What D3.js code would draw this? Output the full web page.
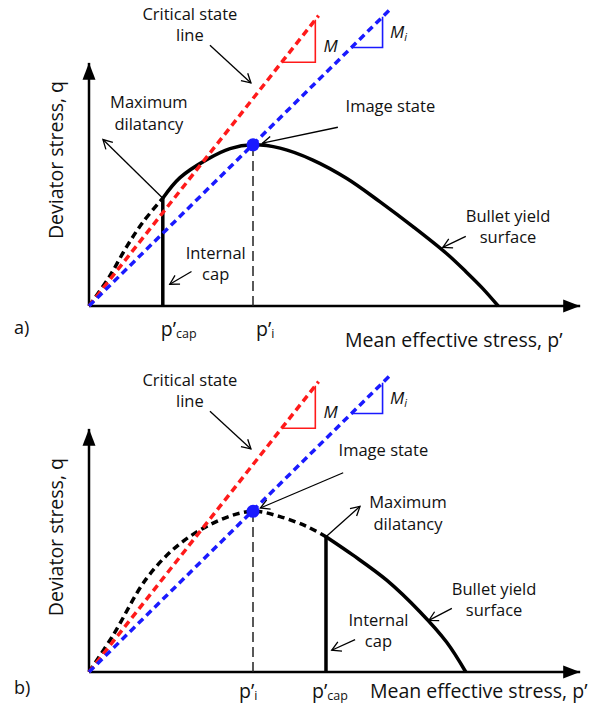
<!DOCTYPE html>
<html>
<head>
<meta charset="utf-8">
<script src="https://cdn.jsdelivr.net/npm/d3@7"></script>
<style>
  body { margin: 0; background: #fff; }
  text { font-family: 'Open Sans', sans-serif; fill: #111; }
</style>
</head>
<body>
<div id="vis"></div>
<script>
// slopes of the critical state line (M) and the image state line (Mi)
const slopeM = 1.265;
const slopeMi = 0.985;
// where the two dashed lines stop, and the p' span of their slope triangles
const cslEnd = 56;
const islEnd = 73.6;
const triM = [47, 55.2];
const triMi = [64, 71.6];

// panel a) : cap left of the image state, (p', q) pairs
const pImageA = 40;
const pCapA = 18;
const dashedA = [[0, 0], [5, 7.2], [9.2, 14.5], [13.2, 20.5], [18, 26.3]];
const solidA = [[18, 26.3], [22.2, 31.3], [28.7, 35.7], [34.4, 38.4], [40, 39.3],
  [46.6, 38.5], [54.6, 35.6], [62.9, 31.1], [71, 25.4], [79.1, 19.3], [87.2, 12.8],
  [92, 8.3], [96, 4.3], [99.8, 0]];

// panel b) : cap right of the image state
const pImageB = 40;
const pCapB = 57.8;
const dashedB = [[0, 0], [5.9, 9], [14.1, 22.9], [22.2, 31.3], [32, 37.1], [40, 39.2],
  [46.6, 37.9], [53.1, 35.5], [57.8, 33]];
const solidB = [[57.8, 33], [64.4, 28.5], [72.6, 22.4], [80.7, 14.7], [87.2, 7.3], [91.9, 0]];

// axis extents
const pMax = 119.8;
const qMax = 59.3;

const red = '#ff1a1a';
const blue = '#1a1aff';

const svg = d3.select('#vis')
  .append('svg')
  .attr('width', 600)
  .attr('height', 715);

const defs = svg.append('defs');
defs.append('marker')
  .attr('id', 'solid-head')
  .attr('viewBox', '0 -7 17 14')
  .attr('refX', 17).attr('refY', 0)
  .attr('markerWidth', 17).attr('markerHeight', 14)
  .attr('markerUnits', 'userSpaceOnUse')
  .attr('orient', 'auto')
  .append('path')
  .attr('d', 'M0,-6.5L17,0L0,6.5Z')
  .attr('fill', '#000');
defs.append('marker')
  .attr('id', 'open-head')
  .attr('viewBox', '-11 -7 13 14')
  .attr('refX', 0).attr('refY', 0)
  .attr('markerWidth', 13).attr('markerHeight', 14)
  .attr('markerUnits', 'userSpaceOnUse')
  .attr('orient', 'auto')
  .append('path')
  .attr('d', 'M-9,-5L0,0L-9,5')
  .attr('fill', 'none')
  .attr('stroke', '#000')
  .attr('stroke-width', 1.3);

const x = d3.scaleLinear().domain([0, 100]).range([89, 499]);

/**
 * draws one panel of the figure, origin is the pixel row of q = 0
 */
function drawPanel(panel) {
  const y = d3.scaleLinear().domain([0, 60]).range([panel.origin, panel.origin - 246]);
  const g = svg.append('g');
  const line = d3.line()
    .x((d) => x(d[0]))
    .y((d) => y(d[1]))
    .curve(d3.curveCatmullRom.alpha(0.5));

  // axes
  g.append('line')
    .attr('x1', x(0)).attr('y1', y(0))
    .attr('x2', x(0)).attr('y2', y(qMax))
    .attr('stroke', '#000').attr('stroke-width', 2.5)
    .attr('marker-end', 'url(#solid-head)');
  g.append('line')
    .attr('x1', x(0)).attr('y1', y(0))
    .attr('x2', x(pMax)).attr('y2', y(0))
    .attr('stroke', '#000').attr('stroke-width', 2.5)
    .attr('marker-end', 'url(#solid-head)');

  // image state projection
  g.append('line')
    .attr('x1', x(panel.image[0])).attr('y1', y(0))
    .attr('x2', x(panel.image[0])).attr('y2', y(panel.image[1]))
    .attr('stroke', '#222').attr('stroke-width', 1.5)
    .attr('stroke-dasharray', '10,5');

  // yield surface and internal cap
  g.append('path')
    .attr('d', line(panel.dashed))
    .attr('fill', 'none').attr('stroke', '#000')
    .attr('stroke-width', 3.5).attr('stroke-dasharray', '7,4.5');
  g.append('path')
    .attr('d', line(panel.solid))
    .attr('fill', 'none').attr('stroke', '#000')
    .attr('stroke-width', 3.5).attr('stroke-linejoin', 'round');
  const capTop = panel.solid[0][0] === panel.pCap ? panel.solid[0] : panel.dashed[panel.dashed.length - 1];
  g.append('line')
    .attr('x1', x(panel.pCap)).attr('y1', y(0))
    .attr('x2', x(panel.pCap)).attr('y2', y(capTop[1]) - 1.5)
    .attr('stroke', '#000').attr('stroke-width', 3.5);

  // critical state line and image state line with slope triangles
  [[slopeM, cslEnd, triM, red], [slopeMi, islEnd, triMi, blue]].forEach(([s, end, tri, c]) => {
    g.append('line')
      .attr('x1', x(0)).attr('y1', y(0))
      .attr('x2', x(end)).attr('y2', y(s * end))
      .attr('stroke', c).attr('stroke-width', 3.5)
      .attr('stroke-dasharray', '7,4.5');
    g.append('path')
      .attr('d', 'M' + x(tri[0]) + ',' + y(s * tri[0]) +
        'L' + x(tri[1]) + ',' + y(s * tri[0]) +
        'L' + x(tri[1]) + ',' + y(s * tri[1]))
      .attr('fill', 'none').attr('stroke', c).attr('stroke-width', 1.6);
  });

  g.append('circle')
    .attr('cx', x(panel.image[0])).attr('cy', y(panel.image[1]))
    .attr('r', 6.5).attr('fill', blue);

  // annotations: text lines and arrows, positioned in (p', q) units
  panel.notes.forEach((n) => {
    const t = g.append('text')
      .attr('x', x(n.at[0])).attr('y', y(n.at[1]))
      .attr('text-anchor', 'middle')
      .style('font-size', '16.5px');
    n.lines.forEach((s, i) => {
      t.append('tspan')
        .attr('x', x(n.at[0]))
        .attr('dy', i === 0 ? 0 : 21.5)
        .text(s);
    });
    g.append('line')
      .attr('x1', x(n.from[0])).attr('y1', y(n.from[1]))
      .attr('x2', x(n.to[0])).attr('y2', y(n.to[1]))
      .attr('stroke', '#000').attr('stroke-width', 1.3)
      .attr('marker-end', 'url(#open-head)');
  });

  // slope labels
  g.append('text')
    .attr('x', x(57.2)).attr('y', y(62))
    .style('font-size', '17px').style('font-style', 'italic')
    .text('M');
  const mi = g.append('text')
    .attr('x', x(73.4)).attr('y', y(65.4))
    .style('font-size', '17px').style('font-style', 'italic')
    .text('M');
  mi.append('tspan').attr('dy', 3).style('font-size', '11px').text('i');

  // p' tick labels
  [[panel.image[0], 'i', panel.piShift], [panel.pCap, 'cap', panel.pcapShift]].forEach(([p, sub, dx]) => {
    const t = g.append('text')
      .attr('x', x(p) + dx).attr('y', y(0) + panel.tickDy)
      .style('font-size', '19.5px')
      .text('p\u2019');
    t.append('tspan').attr('dy', 2).style('font-size', '12.5px').text(sub);
  });

  // axis titles and panel letter
  g.append('text')
    .attr('x', panel.titleX).attr('y', y(0) + panel.titleDy)
    .style('font-size', '19.5px')
    .text('Mean effective stress, p\u2019');
  g.append('text')
    .attr('transform', 'translate(63,' + y(panel.yTitleQ) + ') rotate(-90)')
    .attr('text-anchor', 'middle')
    .style('font-size', '19.5px')
    .text('Deviator stress, q');
  g.append('text')
    .attr('x', 14).attr('y', y(0) + panel.letterDy)
    .style('font-size', '18px')
    .text(panel.letter);
}

const cslNote = {lines: ['Critical state', 'line'], at: [24.6, 69.8], from: [29.5, 63.6], to: [39.5, 54.4]};

drawPanel({
  origin: 306,
  letter: 'a)',
  image: [pImageA, 39.3],
  pCap: pCapA,
  dashed: dashedA,
  solid: solidA,
  piShift: 3, pcapShift: -2, tickDy: 30,
  titleX: 345, titleDy: 41,
  yTitleQ: 35.6,
  letterDy: 28,
  notes: [
    cslNote,
    {lines: ['Maximum', 'dilatancy'], at: [14.6, 48.2], from: [18, 26.3], to: [3.4, 40.6]},
    {lines: ['Image state'], at: [73.5, 47.3], from: [60.7, 43.6], to: [42.3, 39.7]},
    {lines: ['Internal', 'cap'], at: [30.9, 11.5], from: [25, 8.4], to: [19.7, 5.3]},
    {lines: ['Bullet yield', 'surface'], at: [102.2, 20.6], from: [91.9, 17], to: [86.3, 14.3]},
  ],
});

drawPanel({
  origin: 672,
  letter: 'b)',
  image: [pImageB, 39.2],
  pCap: pCapB,
  dashed: dashedB,
  solid: solidB,
  piShift: -14, pcapShift: -14, tickDy: 26,
  titleX: 370, titleDy: 26,
  yTitleQ: 32.9,
  letterDy: 22,
  notes: [
    cslNote,
    {lines: ['Image state'], at: [71.8, 52.6], from: [62, 48.6], to: [41.8, 40]},
    {lines: ['Maximum', 'dilatancy'], at: [77.8, 39.9], from: [57.8, 33], to: [66.1, 40.4]},
    {lines: ['Internal', 'cap'], at: [70.6, 11.3], from: [64.9, 7.9], to: [59.2, 5.3]},
    {lines: ['Bullet yield', 'surface'], at: [98.8, 18.8], from: [88.5, 15.5], to: [82.9, 12.6]},
  ],
});
</script>
</body>
</html>
